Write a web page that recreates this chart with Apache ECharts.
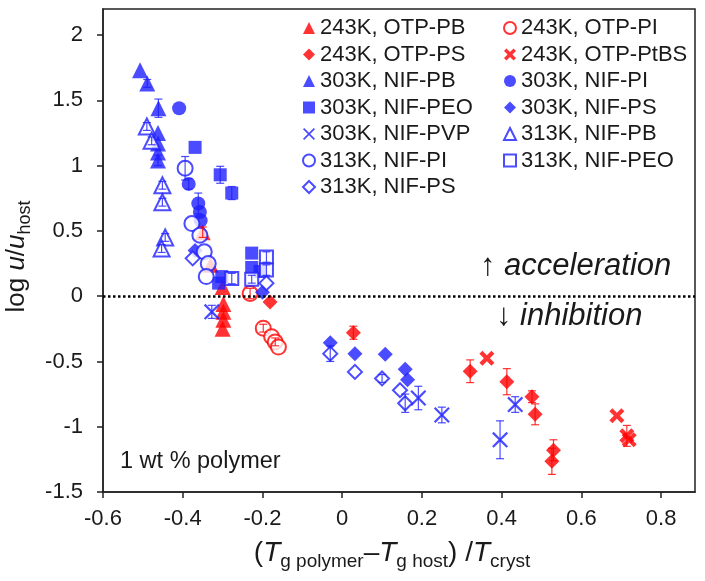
<!DOCTYPE html>
<html><head><meta charset="utf-8">
<script src="https://cdn.jsdelivr.net/npm/echarts@6/dist/echarts.min.js"></script>
<style>html,body{margin:0;padding:0;background:#fff}#c{width:705px;height:581px}</style>
</head><body><div id="c"></div>
<script>
// [x, y, error] for each series
const OTP_PB_243 = [[-0.350,0.49,0.04],[-0.330,0.24,0],[-0.300,0.07,0],[-0.298,-0.06,0],[-0.298,-0.12,0],[-0.298,-0.18,0],[-0.300,-0.25,0]];
const OTP_PI_243 = [[-0.231,0.02,0.04],[-0.198,-0.245,0.03],[-0.177,-0.31,0],[-0.168,-0.35,0.03],[-0.160,-0.39,0]];
const OTP_PS_243 = [[-0.181,-0.045,0],[0.028,-0.28,0.05],[0.321,-0.575,0.087],[0.413,-0.655,0.1],[0.476,-0.77,0.045],[0.484,-0.905,0.08],[0.530,-1.18,0.08],[0.526,-1.265,0.1]];
const OTP_PtBS_243 = [[0.363,-0.475,0],[0.689,-0.915,0],[0.714,-1.07,0.08],[0.720,-1.10,0]];
const NIF_PB_303 = [[-0.507,1.73,0],[-0.489,1.63,0.03],[-0.461,1.44,0.07],[-0.462,1.25,0],[-0.462,1.17,0],[-0.462,1.10,0],[-0.462,1.04,0.04]];
const NIF_PI_303 = [[-0.409,1.44,0],[-0.385,0.86,0.04],[-0.361,0.71,0.08],[-0.357,0.645,0],[-0.355,0.58,0]];
const NIF_PEO_303 = [[-0.369,1.14,0],[-0.306,0.93,0.065],[-0.277,0.79,0.05],[-0.302,0.15,0],[-0.310,0.10,0],[-0.227,0.33,0],[-0.227,0.22,0],[-0.206,0.19,0]];
const NIF_PS_303 = [[-0.369,0.35,0],[-0.200,0.03,0],[-0.030,-0.357,0],[0.032,-0.44,0],[0.108,-0.444,0],[0.158,-0.56,0],[0.164,-0.64,0]];
const NIF_PVP_303 = [[-0.327,-0.12,0.05],[0.191,-0.78,0.09],[0.250,-0.91,0.06],[0.396,-1.10,0.145],[0.434,-0.83,0.06]];
const NIF_PB_313 = [[-0.490,1.30,0.03],[-0.478,1.19,0.03],[-0.451,0.85,0.03],[-0.451,0.72,0.03],[-0.444,0.45,0.03],[-0.453,0.365,0.03]];
const NIF_PI_313 = [[-0.394,0.98,0.09],[-0.377,0.556,0],[-0.357,0.467,0],[-0.346,0.34,0],[-0.336,0.25,0],[-0.341,0.15,0]];
const NIF_PEO_313 = [[-0.277,0.135,0.04],[-0.190,0.30,0.04],[-0.190,0.20,0.04],[-0.227,0.13,0.03]];
const NIF_PS_313 = [[-0.375,0.29,0],[-0.190,0.10,0],[-0.030,-0.44,0.06],[0.032,-0.58,0],[0.100,-0.63,0.03],[0.145,-0.72,0],[0.158,-0.82,0.07]];

const xTicks = [-0.6,-0.4,-0.2,0,0.2,0.4,0.6,0.8];
const yTicks = [-1.5,-1,-0.5,0,0.5,1,1.5,2];

const RED = '#ff0000', BLUE = '#1e1eff';
const FONT = '"Liberation Sans", Arial, sans-serif';
const XTHICK = 'path://M0,2L2,0L5,3L8,0L10,2L7,5L10,8L8,10L5,7L2,10L0,8L3,5Z';
const XTHIN = 'path://M0,1L1,0L5,4L9,0L10,1L6,5L10,9L9,10L5,6L1,10L0,9L4,5Z';

const defs = [
  ['243K, OTP-PB', OTP_PB_243, 'triangle', 16, RED, false],
  ['243K, OTP-PI', OTP_PI_243, 'circle', 15, RED, true],
  ['243K, OTP-PS', OTP_PS_243, 'diamond', 15, RED, false],
  ['243K, OTP-PtBS', OTP_PtBS_243, XTHICK, 15, RED, false],
  ['303K, NIF-PB', NIF_PB_303, 'triangle', 16, BLUE, false],
  ['303K, NIF-PI', NIF_PI_303, 'circle', 14, BLUE, false],
  ['303K, NIF-PEO', NIF_PEO_303, 'rect', 13, BLUE, false],
  ['303K, NIF-PS', NIF_PS_303, 'diamond', 15, BLUE, false],
  ['303K, NIF-PVP', NIF_PVP_303, XTHIN, 16, BLUE, false],
  ['313K, NIF-PB', NIF_PB_313, 'triangle', 16, BLUE, true],
  ['313K, NIF-PI', NIF_PI_313, 'circle', 15, BLUE, true],
  ['313K, NIF-PEO', NIF_PEO_313, 'rect', 13, BLUE, true],
  ['313K, NIF-PS', NIF_PS_313, 'diamond', 14, BLUE, true]
];

const series = [];
defs.forEach(function (d, i) {
  const name = d[0], arr = d[1], color = d[4], open = d[5];
  const s = {
    name: name, type: 'scatter', z: 2,
    data: arr.map(function (p) { return [p[0], p[1]]; }),
    symbol: d[2], symbolSize: d[3],
    itemStyle: open ? {color: '#ffffff', borderColor: color, borderWidth: 2} : {color: color},
    emphasis: {disabled: true}
  };
  if (i === 0) {
    s.markLine = {
      silent: true, symbol: 'none', label: {show: false},
      lineStyle: {color: '#000', width: 2.5, type: [2.5, 2.5]},
      data: [{yAxis: 0}]
    };
  }
  series.push(s);
  const errs = arr.filter(function (p) { return p[2] > 0; });
  series.push({
    name: name + ' error', type: 'custom', z: 3, silent: true,
    data: errs,
    renderItem: function (params, api) {
      const x = api.value(0), y = api.value(1), e = api.value(2);
      const t = api.coord([x, y + e]), b = api.coord([x, y - e]);
      const w = 4;
      const st = {stroke: color, lineWidth: 1.2, opacity: 0.8};
      return {type: 'group', children: [
        {type: 'line', shape: {x1: t[0], y1: t[1], x2: b[0], y2: b[1]}, style: st},
        {type: 'line', shape: {x1: t[0] - w, y1: t[1], x2: t[0] + w, y2: t[1]}, style: st},
        {type: 'line', shape: {x1: b[0] - w, y1: b[1], x2: b[0] + w, y2: b[1]}, style: st}
      ]};
    }
  });
});

const legendCommon = {
  orient: 'vertical', top: 12, itemWidth: 12, itemHeight: 12, itemGap: 4.5,
  selectedMode: false,
  textStyle: {fontFamily: FONT, fontSize: 22, color: '#1a1a1a', lineHeight: 22}
};

function richAxis(big, small) {
  return {
    i: {fontFamily: FONT, fontSize: big, fontStyle: 'italic', color: '#1a1a1a', lineHeight: big + 8, verticalAlign: 'middle'},
    s: {fontFamily: FONT, fontSize: small, color: '#1a1a1a', lineHeight: small, verticalAlign: 'bottom'}
  };
}

const option = {
  animation: false,
  backgroundColor: '#fff',
  grid: {left: 103, right: 10, top: 9, bottom: 89, outerBoundsMode: 'none', containLabel: false,
    show: true, borderColor: '#222', borderWidth: 1.5, backgroundColor: 'transparent'},
  legend: [
    Object.assign({left: 297, data: ['243K, OTP-PB','243K, OTP-PS','303K, NIF-PB','303K, NIF-PEO','303K, NIF-PVP','313K, NIF-PI','313K, NIF-PS']}, legendCommon),
    Object.assign({left: 498, data: ['243K, OTP-PI','243K, OTP-PtBS','303K, NIF-PI','303K, NIF-PS','313K, NIF-PB','313K, NIF-PEO']}, legendCommon)
  ],
  xAxis: {
    type: 'value', min: xTicks[0], max: 0.885, interval: 0.2,
    axisLine: {show: true, onZero: false, lineStyle: {color: '#222', width: 1.5}},
    axisTick: {show: true, inside: false, length: 6, lineStyle: {color: '#222', width: 1.5}},
    splitLine: {show: false},
    axisLabel: {showMaxLabel: false, margin: 16, fontFamily: FONT, fontSize: 22, color: '#1a1a1a',
      formatter: function (v) { const r = Math.round(v * 10) / 10; return xTicks.indexOf(r) >= 0 ? String(r) : ''; }},
    name: '({i|T}{s|g polymer}–{i|T}{s|g host}) /{i|T}{s|cryst}',
    nameLocation: 'middle', nameGap: 41,
    nameTextStyle: {
      padding: [0, 14, 0, 0],
      rich: richAxis(28, 19),
      fontFamily: FONT, fontSize: 28, color: '#1a1a1a', lineHeight: 36
    }
  },
  yAxis: {
    type: 'value', min: yTicks[0], max: 2.2, interval: 0.5,
    axisLine: {show: true, onZero: false, lineStyle: {color: '#222', width: 1.5}},
    axisTick: {show: true, inside: false, length: 6, lineStyle: {color: '#222', width: 1.5}},
    splitLine: {show: false},
    axisLabel: {showMaxLabel: false, margin: 20, fontFamily: FONT, fontSize: 22, color: '#1a1a1a',
      formatter: function (v) { const r = Math.round(v * 10) / 10; return yTicks.indexOf(r) >= 0 ? String(r) : ''; }},
    name: 'log {i|u}/{i|u}{s|host}',
    nameLocation: 'middle', nameGap: 64, nameRotate: 90,
    nameTextStyle: {
      padding: [0, 12, 0, 0],
      fontFamily: FONT, fontSize: 26, color: '#1a1a1a', lineHeight: 34,
      rich: richAxis(26, 18)
    }
  },
  graphic: [
    {type: 'text', left: 480, top: 251, z: 10, style: {text: '↑ {i|acceleration}', fontFamily: FONT, fontSize: 31, fill: '#1a1a1a',
      rich: {i: {fontFamily: FONT, fontSize: 31, fontStyle: 'italic', fill: '#1a1a1a'}}}},
    {type: 'text', left: 496, top: 301, z: 10, style: {text: '↓ {i|inhibition}', fontFamily: FONT, fontSize: 31, fill: '#1a1a1a',
      rich: {i: {fontFamily: FONT, fontSize: 31, fontStyle: 'italic', fill: '#1a1a1a'}}}},
    {type: 'text', left: 120, top: 450, z: 10, style: {text: '1 wt % polymer', fontFamily: FONT, fontSize: 23.5, fill: '#1a1a1a'}}
  ],
  series: series
};

const chart = echarts.init(document.getElementById('c'), null, {renderer: 'canvas'});
chart.setOption(option);
</script></body></html>
